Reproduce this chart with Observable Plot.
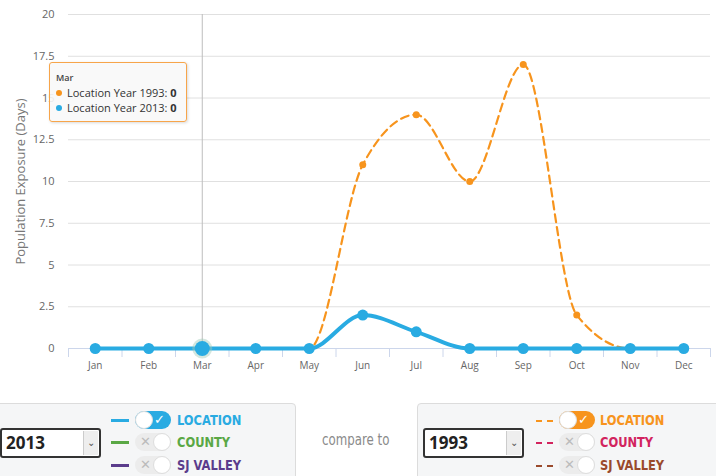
<!DOCTYPE html>
<html><head><meta charset="utf-8">
<script src="https://cdn.jsdelivr.net/npm/d3@7"></script>
<script src="https://cdn.jsdelivr.net/npm/@observablehq/plot@0.6"></script>
<style>
body{margin:0;background:#fff;font-family:"Open Sans","DejaVu Sans",sans-serif;}
#wrap{position:relative;width:716px;height:476px;overflow:hidden;}
#chart{position:absolute;left:0;top:0;}
.tip{position:absolute;left:49px;top:62px;width:136px;height:58px;border:1px solid #f7a54a;border-radius:3px;background:rgba(248,248,248,0.9);box-shadow:1px 1px 3px rgba(0,0,0,0.15);font-size:11px;color:#333;}
.tip .h{position:absolute;left:6px;top:8px;font-size:9px;font-weight:600;color:#444;}
.tip .r{position:absolute;left:6px;white-space:nowrap;}
.tip .dot{display:inline-block;width:6px;height:6px;border-radius:50%;margin-right:5px;vertical-align:1px;}
.panel{position:absolute;top:403px;height:90px;background:#f5f6f7;border:1px solid #dcdcdc;border-radius:4px;}
.sel{position:absolute;top:428px;width:97px;height:26px;border:2px solid #333;border-radius:3px;background:#fff;font-family:"Open Sans",sans-serif;font-weight:700;font-size:17px;color:#222;}
.sel span{position:absolute;left:4px;top:1px;}
.sel .arr{position:absolute;right:1px;top:1px;width:14px;height:24px;background:#eee;border-left:1px solid #ccc;font-size:10px;color:#555;text-align:center;line-height:22px;font-weight:400;}
.lab{position:absolute;font-family:"Liberation Sans Narrow","DejaVu Sans Condensed",sans-serif;font-stretch:condensed;font-weight:700;font-size:14px;line-height:14px;transform:scaleX(0.91);transform-origin:0 0;white-space:nowrap;}
.ln{position:absolute;height:3px;width:18px;}
.dash{position:absolute;width:18px;height:2px;}
.tg{position:absolute;width:36px;height:18px;border-radius:9px;}
.knob{position:absolute;top:0;width:16px;height:16px;border-radius:50%;background:#fff;border:1px solid #ddd;}
.tg .mk{position:absolute;top:1px;font-size:13px;line-height:16px;font-family:"DejaVu Sans",sans-serif;}
.cmp{position:absolute;left:322px;top:430px;font-family:"Liberation Sans Narrow","DejaVu Sans Condensed",sans-serif;font-stretch:condensed;font-size:16px;color:#8a8a8a;transform:scaleX(0.82);transform-origin:0 0;white-space:nowrap;}
</style></head><body><div id="wrap"><div id="chart"></div></div>
<script>
const months = ["Jan","Feb","Mar","Apr","May","Jun","Jul","Aug","Sep","Oct","Nov","Dec"];
const location1993 = [0,0,0,0,0,11,14,10,17,2,0,0];
const location2013 = [0,0,0,0,0,2,1,0,0,0,0,0];
const yTicks = [0,2.5,5,7.5,10,12.5,15,17.5,20];
const hoverMonth = "Mar";
const leftYear = "2013", rightYear = "1993";
const leftSeries = [{name:"LOCATION",color:"#29abe2",on:true},{name:"COUNTY",color:"#5aa845",on:false},{name:"SJ VALLEY",color:"#5b3c8c",on:false}];
const rightSeries = [{name:"LOCATION",color:"#f7941d",on:true},{name:"COUNTY",color:"#d2245e",on:false},{name:"SJ VALLEY",color:"#9a4a2c",on:false}];

const blue = "#29abe2", orange = "#f7941d";
const d93 = months.map((m,i)=>({i,m,v:location1993[i]}));
const d13 = months.map((m,i)=>({i,m,v:location2013[i]}));
const hi = months.indexOf(hoverMonth);
const bounds = d3.range(-0.5, 12, 1);

const chart = Plot.plot({
  width:716, height:395, marginTop:14, marginBottom:47, marginLeft:68, marginRight:6,
  style:{fontFamily:"'Open Sans',sans-serif", fontSize:"10px", color:"#666", background:"transparent"},
  x:{domain:[-0.5,11.5], axis:null},
  y:{domain:[0,20], axis:null},
  marks:[
    Plot.gridY(yTicks.filter(d=>d>0), {stroke:"#e0e0e0", strokeOpacity:1}),
    Plot.axisY(yTicks, {tickSize:0, tickPadding:14, fontSize:11, fill:"#666", tickFormat:d=>String(d), label:null}),
    Plot.text(["Population Exposure (Days)"], {frameAnchor:"left", dx:-48, rotate:-90, fontSize:13, fill:"#777", textAnchor:"middle"}),
    Plot.ruleY([0], {stroke:"#ccd6eb"}),
    Plot.axisX(bounds, {tickSize:9, tickFormat:()=>"", stroke:"#ccd6eb", label:null}),
    Plot.axisX(d3.range(12), {tickSize:0, tickPadding:13, fontSize:10, fill:"#666", tickFormat:i=>months[i], label:null}),
    Plot.ruleX([hi], {y1:0, y2:20, stroke:"#bdbdbd"}),
    Plot.line(d93, {x:"i", y:"v", curve:"monotone-x", stroke:orange, strokeWidth:2.2, strokeDasharray:"8,5"}),
    Plot.dot(d93, {x:"i", y:"v", r:3.5, fill:orange}),
    Plot.line(d13, {x:"i", y:"v", curve:"monotone-x", stroke:blue, strokeWidth:4}),
    Plot.dot(d13, {x:"i", y:"v", r:5.5, fill:blue}),
    Plot.dot([d13[hi]], {x:"i", y:"v", r:10, fill:"#9fc9b8", fillOpacity:0.45}),
    Plot.dot([d13[hi]], {x:"i", y:"v", r:7.5, fill:blue})
  ]
});
const wrap = document.getElementById("wrap");
document.getElementById("chart").appendChild(chart);

// tooltip
const tip = document.createElement("div");
tip.className = "tip";
tip.innerHTML = `<div class="h">${hoverMonth}</div>` +
  `<div class="r" style="top:22px"><span class="dot" style="background:${orange}"></span>Location Year ${rightYear}: <b>${location1993[hi]}</b></div>` +
  `<div class="r" style="top:37px"><span class="dot" style="background:${blue}"></span>Location Year ${leftYear}: <b>${location2013[hi]}</b></div>`;
wrap.appendChild(tip);

// controls
function add(html){ const t=document.createElement("div"); t.innerHTML=html; const el=t.firstElementChild; wrap.appendChild(el); return el; }
add(`<div class="panel" style="left:-10px;width:304px"></div>`);
add(`<div class="panel" style="left:417px;width:320px"></div>`);
add(`<div class="sel" style="left:0px"><span>${leftYear}</span><div class="arr">&#8964;</div></div>`);
add(`<div class="sel" style="left:423px"><span>${rightYear}</span><div class="arr">&#8964;</div></div>`);
add(`<div class="cmp">compare to</div>`);
const rows = [420,442,465];
function toggle(x, y, s){
  if (s.on) {
    return `<div class="tg" style="left:${x}px;top:${y-9}px;background:${s.color}"><span class="mk" style="left:19px;color:#fff;font-weight:700">&#10003;</span><div class="knob" style="left:0px"></div></div>`;
  }
  return `<div class="tg" style="left:${x}px;top:${y-9}px;background:#ececec"><span class="mk" style="left:5px;color:#bbb">&#10005;</span><div class="knob" style="left:18px"></div></div>`;
}
leftSeries.forEach((s,k)=>{
  const y = rows[k];
  add(`<div class="ln" style="left:111px;top:${y-1}px;background:${s.color}"></div>`);
  add(toggle(135, y, s));
  add(`<div class="lab" style="left:177px;top:${y-7}px;color:${s.color}">${s.name}</div>`);
});
rightSeries.forEach((s,k)=>{
  const y = rows[k];
  add(`<div class="dash" style="left:536px;top:${y}px;background:linear-gradient(90deg,${s.color} 0 6px,transparent 6px 11px,${s.color} 11px 17px,transparent 17px)"></div>`);
  add(toggle(559, y, s));
  add(`<div class="lab" style="left:600px;top:${y-7}px;color:${s.color}">${s.name}</div>`);
});
</script></body></html>
